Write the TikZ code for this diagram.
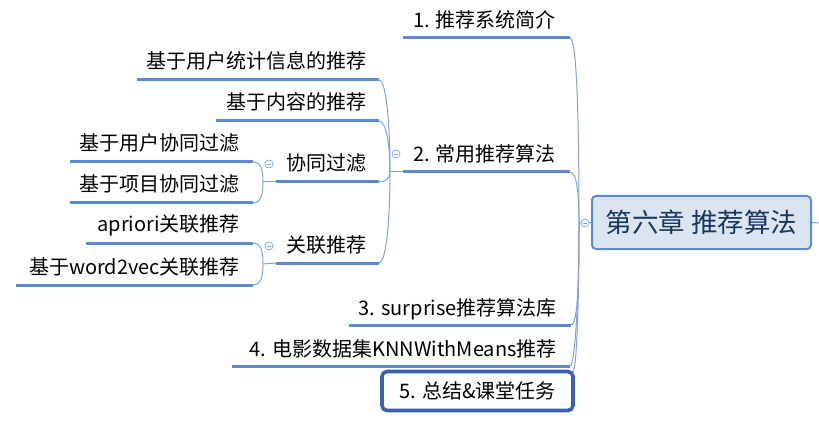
\documentclass[tikz,border=0pt]{standalone}
\usepackage{fontspec}
\setmainfont{Noto Sans CJK SC}
\definecolor{ul}{HTML}{5B8BD3}
\definecolor{cn}{HTML}{7AA3DE}
\definecolor{rootfill}{HTML}{DBE5F2}
\definecolor{rootdraw}{HTML}{5B8BD0}
\definecolor{roottext}{HTML}{17375E}
\definecolor{boxdraw}{HTML}{3C60B4}
\tikzset{
  lbl/.style={anchor=base east, inner sep=0pt, font=\fontsize{20}{22}\selectfont},
  uline/.style={draw=ul, line width=3pt},
  conn/.style={draw=cn, line width=1pt},
  fold/.style={circle, draw=cn, fill=white, minimum size=8pt, inner sep=0pt, line width=0.7pt,
    path picture={\draw[cn, line width=0.6pt] ([xshift=-2pt]path picture bounding box.center) -- ([xshift=2pt]path picture bounding box.center);}},
}
\begin{document}
\begin{tikzpicture}[x=1pt,y=-1pt]
\useasboundingbox (0,0) rectangle (819,422);

% root
\node[draw=rootdraw, fill=rootfill, line width=2pt, rounded corners=4pt, minimum width=219pt, minimum height=53pt, inner sep=0pt, text=roottext, font=\fontsize{26.5}{28}\selectfont] (root) at (701.5,222.5) {第六章 推荐算法};
\coordinate (rout) at (819,223);
\draw[conn] (root.east) -- (rout);
\coordinate (r) at (579,223);
\draw[conn] (r) -- (root.west);

% level 1 items
\coordinate (u1L) at (403,38);  \coordinate (u1R) at (570,38);
\coordinate (u2L) at (403,172); \coordinate (u2R) at (570,172);
\coordinate (u3L) at (349,325); \coordinate (u3R) at (571,325);
\coordinate (u4L) at (232,366); \coordinate (u4R) at (570,366);
\node[lbl] (t1) at (556,28) {1. 推荐系统简介};
\node[lbl] (t2) at (556,162) {2. 常用推荐算法};
\node[lbl] (t3) at (557,315) {3. surprise推荐算法库};
\node[lbl] (t4) at (557,356) {4. 电影数据集KNNWithMeans推荐};
\node[draw=boxdraw, line width=3.6pt, rounded corners=5pt, fill=white, minimum width=191pt, minimum height=39pt, inner sep=0pt, font=\fontsize{20}{22}\selectfont] (b5) at (477.5,391) {5. 总结\&课堂任务};
\coordinate (b5c) at ([xshift=-2pt,yshift=-2pt]b5.north east);

\draw[conn] (u1R) .. controls +(7,0) and +(0,-100) .. (r);
\draw[conn] (u2R) .. controls +(7,0) and +(0,-28) .. (r);
\draw[conn] (u3R) .. controls +(7,0) and +(0,55) .. (r);
\draw[conn] (u4R) .. controls +(5,0) and +(0,75) .. (r);
\draw[conn] (b5c) .. controls +(4,-2) and +(0,80) .. (r);

\draw[uline] (u1L) -- (u1R);
\draw[uline] (u2L) -- (u2R);
\draw[uline] (u3L) -- (u3R);
\draw[uline] (u4L) -- (u4R);
\node[fold] (f0) at (585,223) {};

% level 2
\coordinate (j2) at (390,172);
\draw[conn] (j2) -- (u2L);
\coordinate (aL) at (137,80);  \coordinate (aR) at (379,80);
\coordinate (bL) at (216,121); \coordinate (bR) at (379,121);
\coordinate (cL) at (276,182); \coordinate (cR) at (379,182);
\coordinate (dL) at (276,263); \coordinate (dR) at (379,263);
\node[lbl] (ta) at (367,69) {基于用户统计信息的推荐};
\node[lbl] (tb) at (367,110) {基于内容的推荐};
\node[lbl] (tc) at (367,171) {协同过滤};
\node[lbl] (td) at (367,252) {关联推荐};
\draw[conn] (aR) .. controls +(7,0) and +(0,-50) .. (j2);
\draw[conn] (bR) .. controls +(7,0) and +(0,-28) .. (j2);
\draw[conn] (cR) .. controls +(7,0) and +(0,6) .. (j2);
\draw[conn] (dR) .. controls +(7,0) and +(0,50) .. (j2);
\draw[uline] (aL) -- (aR);
\draw[uline] (bL) -- (bR);
\draw[uline] (cL) -- (cR);
\draw[uline] (dL) -- (dR);
\node[fold] (f2) at (396,154) {};

% level 3 (协同过滤)
\coordinate (j3c) at (263,182);
\draw[conn] (j3c) -- (cL);
\coordinate (c1L) at (70,162); \coordinate (c1R) at (253,162);
\coordinate (c2L) at (70,203); \coordinate (c2R) at (253,203);
\node[lbl] (tc1) at (240,151) {基于用户协同过滤};
\node[lbl] (tc2) at (240,192) {基于项目协同过滤};
\draw[conn] (c1R) .. controls +(9,0) and +(0,-10) .. (j3c);
\draw[conn] (c2R) .. controls +(9,0) and +(0,10) .. (j3c);
\draw[uline] (c1L) -- (c1R);
\draw[uline] (c2L) -- (c2R);
\node[fold] (f3c) at (269,164) {};

% level 3 (关联推荐)
\coordinate (j3d) at (263,264);
\draw[conn] (j3d) -- (dL);
\coordinate (d1L) at (86,243); \coordinate (d1R) at (253,243);
\coordinate (d2L) at (16,285); \coordinate (d2R) at (253,285);
\node[lbl] (td1) at (240,232) {apriori关联推荐};
\node[lbl] (td2) at (240,274) {基于word2vec关联推荐};
\draw[conn] (d1R) .. controls +(9,0) and +(0,-10) .. (j3d);
\draw[conn] (d2R) .. controls +(9,0) and +(0,10) .. (j3d);
\draw[uline] (d1L) -- (d1R);
\draw[uline] (d2L) -- (d2R);
\node[fold] (f3d) at (269,246) {};
\end{tikzpicture}
\end{document}
